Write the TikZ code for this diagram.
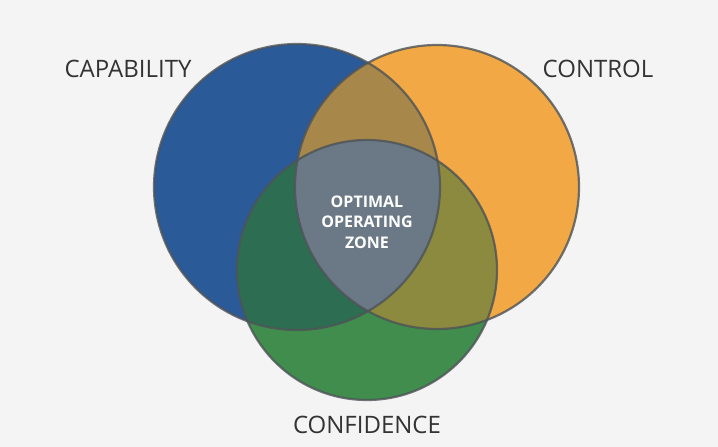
\documentclass[tikz,border=0pt]{standalone}
\usepackage{fontspec}
\setmainfont{Open Sans}
\definecolor{bg}{HTML}{F4F4F4}
\definecolor{cblue}{HTML}{2B5A98}
\definecolor{corange}{HTML}{F2A844}
\definecolor{cgreen}{HTML}{418D4E}
\definecolor{cbo}{HTML}{A8884A}
\definecolor{cbg}{HTML}{2D6E52}
\definecolor{cog}{HTML}{8C8A3E}
\definecolor{ccenter}{HTML}{6B7986}
\definecolor{edge}{HTML}{4E5358}
\begin{document}
\begin{tikzpicture}[x=1pt,y=-1pt,
  lbl/.style={font=\fontsize{24}{28}\selectfont, text=black!80},
  ring/.style={draw=edge, line width=2.2pt, draw opacity=0.8}]
\fill[bg] (0,0) rectangle (718,447);
\useasboundingbox (0,0) rectangle (718,447);
\def\B{(297,187) circle (143)}
\def\O{(437,187) circle (142)}
\def\G{(367,270) circle (130)}
\fill[cblue] \B;
\fill[corange] \O;
\fill[cgreen] \G;
\begin{scope}\clip \B; \fill[cbo] \O; \fill[cbg] \G; \end{scope}
\begin{scope}\clip \O; \fill[cog] \G; \end{scope}
\begin{scope}\clip \B; \clip \O; \fill[ccenter] \G; \end{scope}
\draw[ring] \B; \draw[ring] \O; \draw[ring] \G;
\node[lbl] (cap) at (128,69) {CAPABILITY};
\node[lbl] (ctl) at (598,69) {CONTROL};
\node[lbl] (cnf) at (367,425) {CONFIDENCE};
\node[align=center, text=white, font=\bfseries\fontsize{16}{20.5}\selectfont] (zone) at (367,222) {OPTIMAL\\OPERATING\\ZONE};
\end{tikzpicture}
\end{document}
